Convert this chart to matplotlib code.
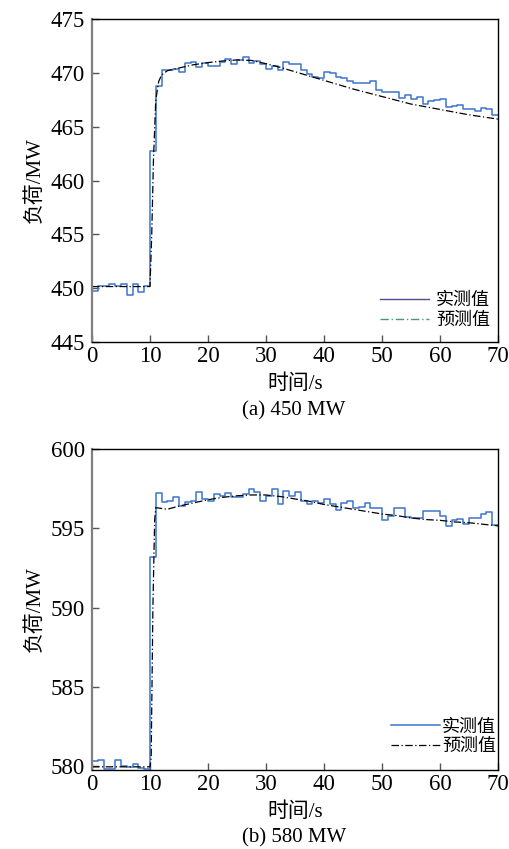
import matplotlib
matplotlib.use("Agg")
import matplotlib.pyplot as plt
from matplotlib.lines import Line2D

t_meas = list(range(0, 71))

load_450_meas = [
    449.7, 450.2, 450.2, 450.35, 450.2, 450.4, 449.4, 450.4, 449.6, 450.2,
    462.7, 468.8, 470.3, 470.3, 470.4, 470.1, 470.95, 471.0, 470.55, 470.9,
    470.65, 470.65, 471.0, 471.3, 470.85, 471.2, 471.45, 470.95, 471.1, 470.8,
    470.4, 470.6, 470.3, 471.05, 470.85, 470.85, 470.25, 469.9, 469.6, 469.55,
    470.1, 470.0, 469.6, 469.5, 469.2, 469.1, 469.1, 469.1, 469.2, 468.4,
    468.2, 468.2, 468.2, 467.65, 467.95, 467.6, 467.8, 467.1, 467.35, 467.5,
    467.55, 466.8, 466.9, 467.05, 466.65, 466.6, 466.5, 466.75, 466.6, 466.1,
    466.1,
]

t_pred_450 = [0, 10, 10.3, 10.6, 11, 11.5, 12, 13, 15, 17.5, 20, 22.5, 25, 27.5,
              30, 32.5, 35, 37.5, 40, 42.5, 45, 47.5, 50, 52.5, 55, 57.5, 60,
              62.5, 65, 67.5, 70]
load_450_pred = [450.15, 450.15, 455.0, 462.0, 467.5, 469.2, 469.8, 470.2, 470.45,
                 470.75, 470.95, 471.1, 471.2, 471.15, 470.85, 470.5, 470.1,
                 469.7, 469.3, 468.9, 468.5, 468.15, 467.8, 467.45, 467.1,
                 466.85, 466.6, 466.35, 466.1, 465.9, 465.7]

load_580_meas = [
    580.3, 580.35, 579.8, 579.8, 580.4, 580.0, 579.95, 580.1, 579.85, 579.8,
    593.2, 597.2, 596.65, 596.7, 597.0, 596.4, 596.65, 596.75, 597.3, 596.85,
    596.7, 597.15, 597.05, 597.25, 596.95, 597.0, 597.15, 597.45, 597.3, 596.7,
    597.05, 597.45, 596.55, 597.35, 597.05, 597.3, 596.75, 596.5, 596.75, 596.6,
    596.85, 596.5, 596.15, 596.6, 596.75, 596.3, 596.35, 596.6, 596.3, 596.25,
    595.55, 595.8, 596.25, 596.25, 595.7, 595.65, 595.65, 596.1, 596.1, 596.1,
    595.8, 595.15, 595.55, 595.6, 595.25, 595.65, 595.65, 595.9, 596.0, 595.2,
    595.2,
]

t_pred_580 = [0, 10, 10.2, 10.5, 10.8, 11, 12, 13, 15, 17.5, 20, 22.5, 25, 27.5,
              30, 32.5, 35, 37.5, 40, 42.5, 45, 47.5, 50, 52.5, 55, 57.5, 60,
              62.5, 65, 67.5, 70]
load_580_pred = [579.95, 579.95, 580.5, 590.0, 595.5, 596.3, 596.25, 596.2, 596.4,
                 596.6, 596.8, 596.95, 597.05, 597.1, 597.1, 597.0, 596.85,
                 596.7, 596.5, 596.35, 596.2, 596.05, 595.9, 595.8, 595.65,
                 595.55, 595.5, 595.4, 595.35, 595.25, 595.15]

x_ticks = [0, 10, 20, 30, 40, 50, 60, 70]
y_ticks_450 = [445, 450, 455, 460, 465, 470, 475]
y_ticks_580 = [580, 585, 590, 595, 600]
legend_labels = ["实测值", "预测值"]
captions = ["(a) 450 MW", "(b) 580 MW"]

FONT = ["Liberation Serif", "Noto Sans CJK SC"]
plt.rcParams["font.family"] = FONT
plt.rcParams["axes.unicode_minus"] = False

MEAS_COLOR = "#3c74cc"
DASHDOT = (0, (6, 2, 1, 2))

fig = plt.figure(figsize=(5.10, 8.49), dpi=100)
W, H = 510, 849


def make_axes(left, top, right, bottom):
    return fig.add_axes([left / W, 1 - bottom / H, (right - left) / W, (bottom - top) / H])


def style_axes(ax, yticks, ylim):
    ax.set_xlim(0, 70)
    ax.set_ylim(*ylim)
    ax.set_xticks(x_ticks)
    ax.set_yticks(yticks)
    ax.tick_params(direction="in", length=5, width=1, labelsize=16.5, pad=3,
                   color="#555555", top=False, right=False)
    ax.tick_params(axis="y", pad=5)
    for side in ["top", "right", "bottom"]:
        ax.spines[side].set_color("black")
        ax.spines[side].set_linewidth(1.0)
    ax.spines["left"].set_color("#808080")
    ax.spines["left"].set_linewidth(1.6)
    ax.set_xlabel("时间/s", fontsize=15, labelpad=5)
    ax.set_ylabel("负荷/MW", fontsize=15, labelpad=4)


# ---- (a) 450 MW ----
ax1 = make_axes(92, 19, 498, 342)
ax1.plot(t_meas, load_450_meas, drawstyle="steps-post", color=MEAS_COLOR, lw=1.1)
ax1.plot(t_pred_450, load_450_pred, color="black", lw=0.9, ls=DASHDOT)
style_axes(ax1, y_ticks_450, (445, 475))
h1 = [Line2D([], [], color="#4e4f8c", lw=1.0),
      Line2D([], [], color="#4a9a70", lw=1.0, ls=DASHDOT)]
ax1.legend(h1, legend_labels, loc="lower right", frameon=False, fontsize=13,
           handlelength=2.7, handletextpad=0.4, labelspacing=0.15,
           bbox_to_anchor=(1.02, -0.01))
fig.text(0.576, 1 - 411 / H, captions[0], ha="center", va="center", fontsize=15)

# ---- (b) 580 MW ----
ax2 = make_axes(92, 449, 498, 770)
ax2.plot(t_meas, load_580_meas, drawstyle="steps-post", color=MEAS_COLOR, lw=1.1)
ax2.plot(t_pred_580, load_580_pred, color="black", lw=0.9, ls=DASHDOT)
style_axes(ax2, y_ticks_580, (579.75, 600))
h2 = [Line2D([], [], color=MEAS_COLOR, lw=1.1),
      Line2D([], [], color="black", lw=0.9, ls=DASHDOT)]
ax2.legend(h2, legend_labels, loc="lower right", frameon=False, fontsize=13,
           handlelength=2.7, handletextpad=0.1, labelspacing=0.15,
           bbox_to_anchor=(1.035, -0.005))
fig.text(0.576, 1 - 838 / H, captions[1], ha="center", va="center", fontsize=15)

fig.savefig("out.png", dpi=100)
